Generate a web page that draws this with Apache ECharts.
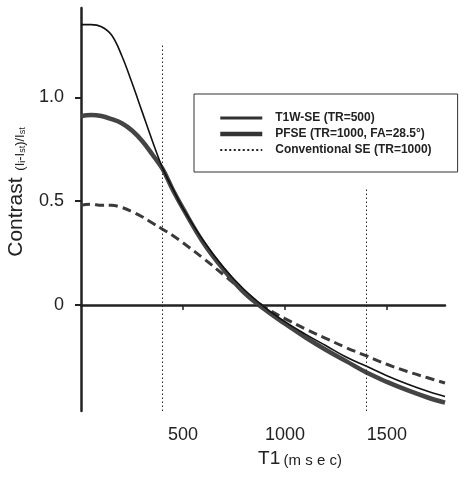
<!DOCTYPE html>
<html>
<head>
<meta charset="utf-8">
<script src="https://cdn.jsdelivr.net/npm/echarts@6/dist/echarts.min.js"></script>
<style>
html,body{margin:0;padding:0;background:#fff;}
#chart{width:465px;height:479px;}
</style>
</head>
<body>
<div id="chart"></div>
<script>
// T1 values (msec)
var t1Values = [0,50,100,150,200,250,300,350,400,450,500,600,700,800,900,1000,1100,1200,1300,1400,1500,1600,1700,1785];
// Contrast values per series
var t1wSE   = [1.35,1.35,1.34,1.30,1.20,1.07,0.93,0.79,0.66,0.56,0.465,0.31,0.18,0.075,-0.01,-0.08,-0.14,-0.195,-0.25,-0.295,-0.34,-0.38,-0.415,-0.44];
var pfse    = [0.91,0.915,0.91,0.895,0.875,0.84,0.79,0.725,0.655,0.555,0.465,0.30,0.17,0.06,-0.02,-0.09,-0.155,-0.215,-0.27,-0.325,-0.37,-0.41,-0.445,-0.47];
var convSE  = [0.48,0.485,0.48,0.48,0.47,0.45,0.425,0.395,0.365,0.335,0.30,0.225,0.145,0.065,-0.01,-0.065,-0.115,-0.16,-0.205,-0.245,-0.285,-0.32,-0.35,-0.375];
var seriesNames = ['T1W-SE (TR=500)', 'PFSE (TR=1000, FA=28.5°)', 'Conventional SE (TR=1000)'];
// axis ticks
var xTicks = [500, 1000, 1500];
var yTicks = [0, 0.5, 1.0];
var xRange = [0, 1785];
var yRange = [-0.51, 1.43];
// reference lines: vertical at T1 (with top value), horizontal at contrast 0
var refVertical = [[400, 1.26], [1400, 0.56]];
var refHorizontal = 0;

function pairs(ys){ return t1Values.map(function(x,i){ return [x, ys[i]]; }); }

var font = 'Liberation Sans, Arial, Helvetica, sans-serif';
var dotted = {type:[1.5,2.5], width:1, color:'#222'};

var markData = [
  [{coord:[xRange[0], refHorizontal]}, {coord:[xRange[1], refHorizontal]}]
].concat(refVertical.map(function(v){
  return [{coord:[v[0], yRange[0]]}, {coord:[v[0], v[1]]}];
}));

var chart = echarts.init(document.getElementById('chart'), null, {renderer:'canvas'});
chart.setOption({
  animation:false,
  backgroundColor:'#fff',
  grid:{left:81, top:8, right:20, bottom:68, containLabel:false},
  xAxis:{
    type:'value', min:xRange[0], max:xRange[1],
    splitLine:{show:false},
    axisLine:{lineStyle:{color:'#222', width:2.5}},
    axisTick:{length:5, lineStyle:{color:'#222', width:1.5}, customValues:xTicks},
    axisLabel:{customValues:xTicks, margin:15, fontFamily:font, fontSize:18, color:'#222',
      formatter:function(v){ return String(v); }}
  },
  yAxis:{
    type:'value', min:yRange[0], max:yRange[1],
    splitLine:{show:false},
    axisLine:{show:true, lineStyle:{color:'#222', width:2.5}},
    axisTick:{show:true, length:6, lineStyle:{color:'#222', width:2}, customValues:yTicks},
    axisLabel:{customValues:yTicks, margin:17, fontFamily:font, fontSize:18, color:'#222',
      formatter:function(v){ return v===0 ? '0' : v.toFixed(1); }}
  },
  legend:{
    orient:'vertical', left:194, top:94,
    borderColor:'#333', borderWidth:1,
    padding:[18, 26, 16, 24],
    itemWidth:42, itemHeight:10, itemGap:4,
    textStyle:{fontFamily:font, fontSize:12, fontWeight:'bold', color:'#222', padding:[0,0,0,8]},
    data:[
      {name:seriesNames[0], itemStyle:{opacity:0}, lineStyle:{width:3, color:'#333', type:'solid'}},
      {name:seriesNames[1], itemStyle:{opacity:0}, lineStyle:{width:4.5, color:'#333', type:'solid'}},
      {name:seriesNames[2], itemStyle:{opacity:0}, lineStyle:{type:[2,2.5], width:2, color:'#222'}}
    ]
  },
  series:[
    {
      name:seriesNames[2], type:'line', data:pairs(convSE), smooth:0.4, symbol:'none',
      lineStyle:{color:'#3a3a3a', width:3, type:[9,5]}, z:2,
      markLine:{silent:true, symbol:'none', label:{show:false}, lineStyle:dotted, data:markData}
    },
    {
      name:seriesNames[1], type:'line', data:pairs(pfse), smooth:0.4, symbol:'none',
      lineStyle:{color:'#444', width:4.5}, z:3
    },
    {
      name:seriesNames[0], type:'line', data:pairs(t1wSE), smooth:0.4, symbol:'none',
      lineStyle:{color:'#111', width:1.6}, z:4
    }
  ],
  graphic:[
    {
      type:'text', x:300, y:457,
      style:{
        text:'{a|T1} {b|(m s e c)}',
        align:'center', verticalAlign:'middle',
        rich:{
          a:{fontFamily:font, fontSize:19, fill:'#222', lineHeight:22, verticalAlign:'bottom'},
          b:{fontFamily:font, fontSize:15, fill:'#222', lineHeight:18, verticalAlign:'bottom'}
        }
      }
    },
    {
      type:'text', x:15, y:192, rotation:Math.PI/2,
      style:{
        text:'{a|Contrast}  {b|(I}{s|i}{b|-I}{s|st}{b|)/I}{s|st}',
        align:'center', verticalAlign:'middle',
        rich:{
          a:{fontFamily:font, fontSize:21, fill:'#222', lineHeight:24, verticalAlign:'bottom'},
          b:{fontFamily:font, fontSize:13, fill:'#222', lineHeight:18, verticalAlign:'bottom'},
          s:{fontFamily:font, fontSize:9, fill:'#222', lineHeight:9, verticalAlign:'bottom'}
        }
      }
    }
  ]
});
</script>
</body>
</html>
